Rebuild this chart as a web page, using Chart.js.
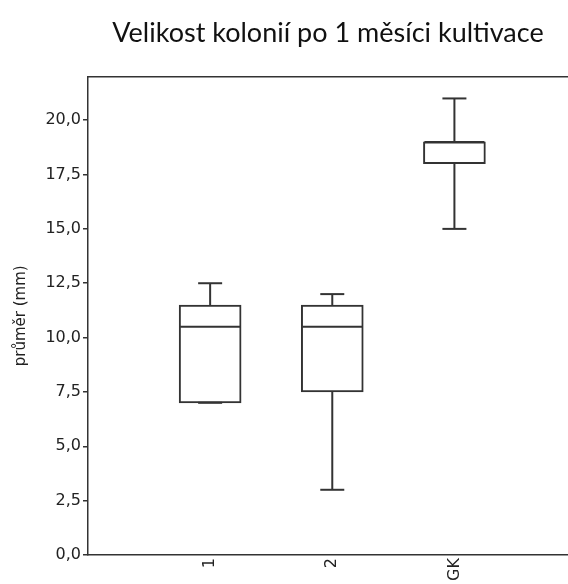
<!doctype html>
<html>
<head>
  <meta charset="utf-8" />
  <title>Velikost kolonií</title>
  <script src="https://cdn.jsdelivr.net/npm/chart.js@4/dist/chart.umd.min.js"></script>
  <style>
    body { margin: 0; background: #fff; overflow: hidden; }
    #wrap { width: 568px; height: 584px; }
  </style>
</head>
<body>
<div id="wrap"><canvas id="myChart"></canvas></div>

<script>
// box plot data
const categories = ['1', '2', 'GK'];
const whiskerMin = [7.0, 3.0, 15.0];
const quartile1  = [7.0, 7.5, 18.0];
const medians    = [10.5, 10.5, 19.0];
const quartile3  = [11.5, 11.5, 19.0];
const whiskerMax = [12.5, 12.0, 21.0];

const LINE = '#333';
const TEXT = '#222';
const SANS = '"DejaVu Sans", sans-serif';

// box bodies as floating bars at x = 1,2,3
const boxes = categories.map((c, i) => ({ x: i + 1, y: [quartile1[i], quartile3[i]] }));

// whiskers, caps and median lines
const boxExtras = {
  id: 'boxExtras',
  afterDatasetsDraw(chart) {
    const ctx = chart.ctx;
    const xs = chart.scales.x, ys = chart.scales.y;
    ctx.save();
    ctx.strokeStyle = LINE;
    ctx.lineWidth = 2;
    categories.forEach((c, i) => {
      const x = xs.getPixelForValue(i + 1);
      const seg = (x1, y1, x2, y2) => {
        ctx.beginPath(); ctx.moveTo(x1, y1); ctx.lineTo(x2, y2); ctx.stroke();
      };
      const yMax = ys.getPixelForValue(whiskerMax[i]);
      const yMin = ys.getPixelForValue(whiskerMin[i]);
      seg(x, ys.getPixelForValue(quartile3[i]), x, yMax);
      seg(x - 12, yMax, x + 12, yMax);
      seg(x, ys.getPixelForValue(quartile1[i]), x, yMin);
      seg(x - 12, yMin, x + 12, yMin);
      const yMed = ys.getPixelForValue(medians[i]);
      seg(x - 30, yMed, x + 30, yMed);
    });
    // top frame line
    const a = chart.chartArea;
    ctx.lineWidth = 1.5;
    ctx.beginPath(); ctx.moveTo(a.left, a.top); ctx.lineTo(a.right, a.top); ctx.stroke();
    ctx.restore();
  }
};

const chart = new Chart('myChart', {
  type: 'bar',
  data: {
    datasets: [{
      data: boxes,
      backgroundColor: '#fff',
      borderColor: LINE,
      borderWidth: 2,
      borderSkipped: false,
      barThickness: 62
    }]
  },
  options: {
    responsive: true,
    maintainAspectRatio: false,
    animation: false,
    layout: { padding: 0 },
    plugins: {
      legend: { display: false },
      tooltip: { enabled: false },
      title: {
        display: true,
        text: 'Velikost kolonií po 1 měsíci kultivace',
        fullSize: false,
        color: '#111',
        font: { family: 'Lato', size: 27, weight: 'normal' },
        padding: { top: 17, bottom: 27.3 }
      }
    },
    scales: {
      x: {
        type: 'linear',
        offset: false,
        min: 0,
        max: 3.93,
        afterFit: s => { s.height = 29; },
        grid: { display: true, drawOnChartArea: false, drawTicks: false },
        border: { display: true, color: LINE, width: 1.5 },
        ticks: {
          stepSize: 1,
          includeBounds: false,
          autoSkip: false,
          minRotation: 90,
          maxRotation: 90,
          padding: 3,
          color: TEXT,
          font: { family: SANS, size: 16 },
          callback: v => categories[v - 1] || ''
        }
      },
      y: {
        min: 0,
        max: 22,
        afterFit: s => { s.width = 88; },
        grid: { display: true, drawOnChartArea: false, drawTicks: true, tickLength: 5, color: LINE, lineWidth: 1.5 },
        border: { display: true, color: LINE, width: 1.5 },
        title: {
          display: true,
          text: 'průměr (mm)',
          color: TEXT,
          font: { family: SANS, size: 15 },
          padding: { top: 12, bottom: 0 }
        },
        ticks: {
          stepSize: 2.5,
          includeBounds: false,
          padding: 2,
          color: TEXT,
          font: { family: SANS, size: 16 },
          callback: v => v.toFixed(1).replace('.', ',')
        }
      }
    }
  },
  plugins: [boxExtras]
});
</script>
</body>
</html>
